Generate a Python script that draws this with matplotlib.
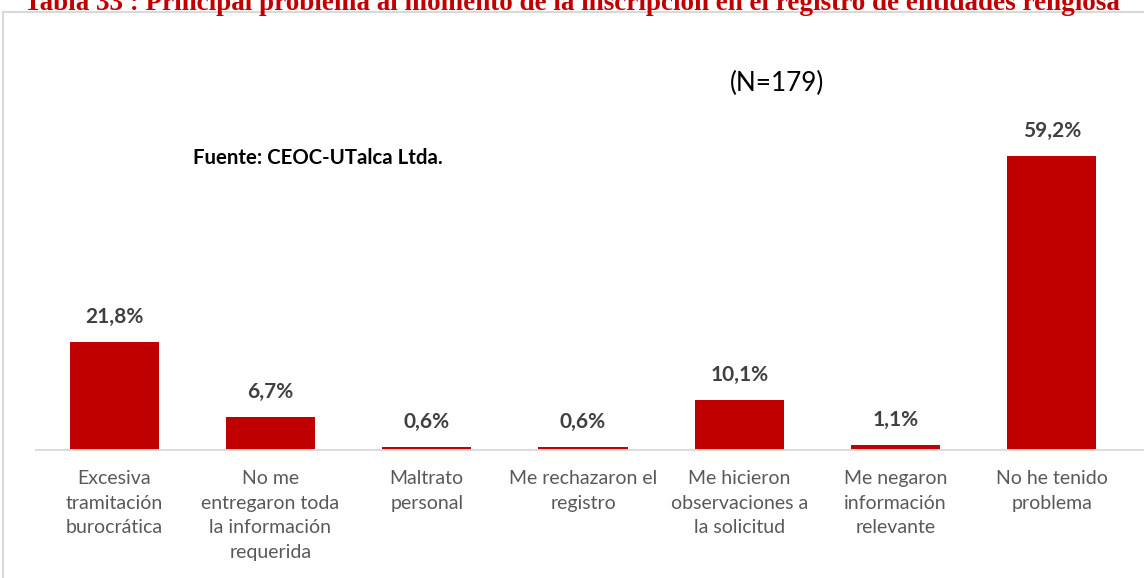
import matplotlib
matplotlib.use("Agg")
import matplotlib.pyplot as plt
from matplotlib.patches import Rectangle

categories = ["Excesiva\ntramitación\nburocrática",
              "No me\nentregaron toda\nla información\nrequerida",
              "Maltrato\npersonal",
              "Me rechazaron el\nregistro",
              "Me hicieron\nobservaciones a\nla solicitud",
              "Me negaron\ninformación\nrelevante",
              "No he tenido\nproblema"]
values = [21.8, 6.7, 0.6, 0.6, 10.1, 1.1, 59.2]
value_labels = ["21,8%", "6,7%", "0,6%", "0,6%", "10,1%", "1,1%", "59,2%"]
title = "Tabla 33 : Principal problema al momento de la inscripción en el registro de entidades religiosa"

W, H = 1144, 578
fig = plt.figure(figsize=(W / 100, H / 100), dpi=100)
font = ["Lato", "DejaVu Sans"]

# border frame
fig.patches.append(Rectangle((3 / W, -0.1), 1.2, (H - 12) / H + 0.1,
                             transform=fig.transFigure, fill=False,
                             edgecolor="#D9D9D9", linewidth=1.5))

ax = fig.add_axes([36 / W, (H - 450) / H, (1130 - 36) / W, (450 - 18) / H])
x = list(range(len(values)))
ax.bar(x, values, width=0.57, color="#C00000")
ax.set_xlim(-0.5, len(values) - 0.5)
ax.set_ylim(0, 87)
for s in ax.spines.values():
    s.set_visible(False)
ax.set_yticks([])
ax.set_xticks([])
ax.plot([-0.5, 6.6], [0, 0], color="#D9D9D9", lw=1.3, clip_on=False)

for xi, v, lab in zip(x, values, value_labels):
    ax.annotate(lab, (xi, v), xytext=(0, 25), textcoords="offset pixels",
                ha="center", va="center", fontsize=15, fontweight="bold",
                color="#404040", family=font)

for xi, c in zip(x, categories):
    ax.annotate(c, (xi, 0), xytext=(0, -20), textcoords="offset pixels",
                ha="center", va="top", fontsize=14, color="#595959",
                family=font, linespacing=1.55)

fig.text(572 / W, (H - 10) / H, title, ha="center", va="baseline",
         fontsize=19.5, fontweight="bold", color="#C00000",
         family=["Liberation Serif", "DejaVu Serif"])
fig.text(193 / W, (H - 158) / H, "Fuente: CEOC-UTalca Ltda.", ha="left",
         va="center", fontsize=14.7, fontweight="bold", color="black",
         family=font)
fig.text(730 / W, (H - 83) / H, "(N=179)", ha="left", va="center",
         fontsize=18.8, color="black", family=font)

fig.savefig("out.png", dpi=100)
